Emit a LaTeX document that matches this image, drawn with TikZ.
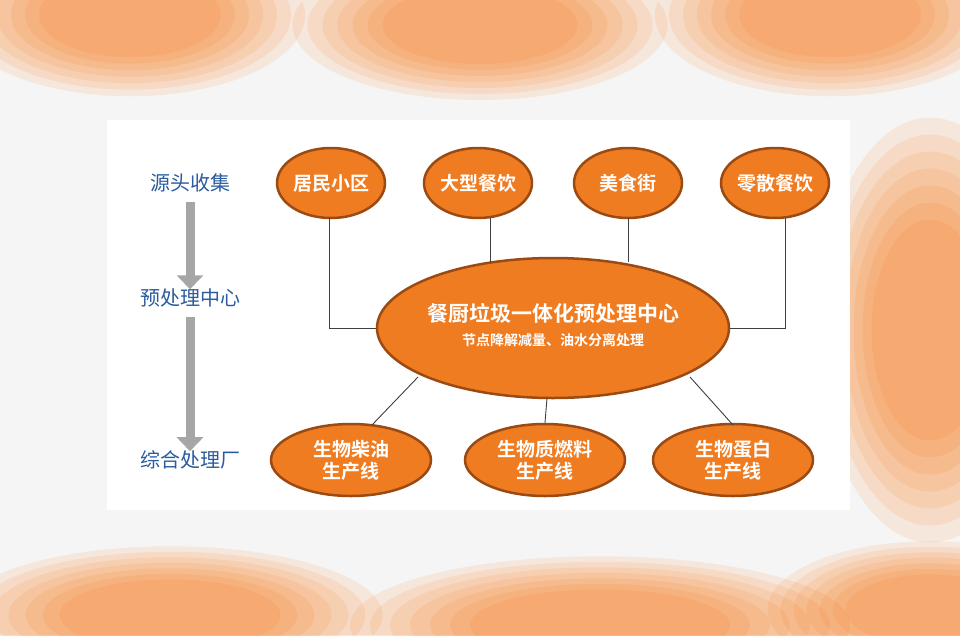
\documentclass[tikz,border=0pt]{standalone}
\usepackage{fontspec}
\newfontfamily\cjk{Noto Sans CJK SC}[BoldFont={Noto Sans CJK SC Bold}]
\begin{document}
\begin{tikzpicture}[x=1pt,y=-1pt,
 blob/.style={fill=orange!85!red, opacity=0.1},
 ov/.style={ellipse, fill=myor, draw=myrim, line width=2.5pt, text=white, font=\cjk\bfseries\fontsize{19}{22}\selectfont, inner sep=0pt, align=center},
 lab/.style={font=\cjk\fontsize{20}{24}\selectfont, text=myblue},
 ln/.style={draw=black!75, line width=0.9pt},
 garrow/.style={line width=9pt, draw=gray!70, -{Triangle[length=14pt,width=26pt]}}]
\usetikzlibrary{shapes.geometric,arrows.meta}
\definecolor{myor}{HTML}{F07C22}
\definecolor{myrim}{HTML}{9A4A12}
\definecolor{myblue}{HTML}{2A5C9E}
\useasboundingbox (0,0) rectangle (960,635);
\fill[black!4] (0,0) rectangle (960,635);
\foreach \cx/\cy/\rx/\ry in {130/15/140/65, 480/25/150/60, 830/15/140/65, 170/615/170/55, 600/625/200/55, 930/610/130/55, 930/330/90/170}{
  \foreach \s in {1.25,1.15,1.05,0.95,0.85,0.75,0.65}{
    \fill[blob] (\cx,\cy) ellipse ({\rx*\s} and {\ry*\s});
  }
}
\fill[white] (107,120) rectangle (850,510);
\node[ov, minimum width=108pt, minimum height=70pt] (a) at (331,183) {居民小区};
\node[ov, minimum width=108pt, minimum height=70pt] (b) at (478,183) {大型餐饮};
\node[ov, minimum width=108pt, minimum height=70pt] (c) at (628,183) {美食街};
\node[ov, minimum width=108pt, minimum height=70pt] (d) at (775,183) {零散餐饮};
\node[ov, minimum width=352pt, minimum height=140pt] (m) at (553,328) {};
\node[text=white, font=\cjk\bfseries\fontsize{21}{24}\selectfont] (mt) at (553,313) {餐厨垃圾一体化预处理中心};
\node[text=white, font=\cjk\bfseries\fontsize{14}{17}\selectfont] (ms) at (553,340) {节点降解减量、油水分离处理};
\node[ov, minimum width=160pt, minimum height=72pt] (e) at (351,460) {生物柴油\\生产线};
\node[ov, minimum width=160pt, minimum height=72pt] (f) at (545,460) {生物质燃料\\生产线};
\node[ov, minimum width=160pt, minimum height=72pt] (g) at (733,460) {生物蛋白\\生产线};
\coordinate (e1) at (372,425); \coordinate (m1) at (418,377);
\coordinate (g1) at (733,425); \coordinate (m3) at (690,377);
\draw[ln] (329,218) |- (m.west);
\draw[ln] (785,218) |- (m.east);
\draw[ln] (490,218) -- (490,262);
\draw[ln] (628,218) -- (628,262);
\draw[ln] (m1) -- (e1);
\draw[ln] (547,398) -- (f.north);
\draw[ln] (m3) -- (g1);
\node[lab] (l1) at (190,183) {源头收集};
\node[lab] (l2) at (190,298) {预处理中心};
\node[lab] (l3) at (190,460) {综合处理厂};
\draw[garrow] (l1.south) ++(0,6) -- ([yshift=-4]l2.north);
\draw[garrow] (l2.south) ++(0,6) -- ([yshift=-4]l3.north);
\end{tikzpicture}
\end{document}
